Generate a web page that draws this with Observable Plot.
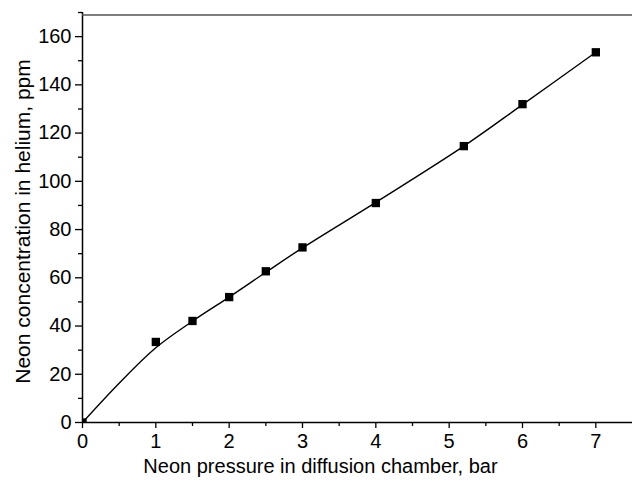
<!DOCTYPE html>
<html><head><meta charset="utf-8">
<script src="https://cdn.jsdelivr.net/npm/d3@7"></script>
<script src="https://cdn.jsdelivr.net/npm/@observablehq/plot@0.6"></script>
<style>body{margin:0;background:#fff}</style>
</head><body><div id="chart"></div>
<script>
const pressure = [0, 1, 1.5, 2, 2.5, 3, 4, 5.2, 6, 7];
const concentration = [0, 33.4, 42.1, 52.0, 62.7, 72.6, 91.0, 114.6, 132.0, 153.5];
const fitPressure = [0, 0.5, 1, 1.5, 2, 2.5, 3, 4, 5.2, 6, 7];
const fitConcentration = [0, 16.3, 31, 42, 52, 62.3, 72.4, 91.3, 114.6, 131.8, 153.5];
const xMajorTicks = [0, 1, 2, 3, 4, 5, 6, 7];
const xMinorTicks = [0.5, 1.5, 2.5, 3.5, 4.5, 5.5, 6.5];
const yMajorTicks = [0, 20, 40, 60, 80, 100, 120, 140, 160];
const yMinorTicks = [10, 30, 50, 70, 90, 110, 130, 150, 170];
const xLabel = "Neon pressure in diffusion chamber, bar";
const yLabel = "Neon concentration in helium, ppm";

const points = pressure.map((p, i) => ({p, c: concentration[i]}));
const fit = fitPressure.map((p, i) => ({p, c: fitConcentration[i]}));

const chart = Plot.plot({
  width: 632, height: 483,
  marginLeft: 82, marginRight: 0, marginTop: 12, marginBottom: 61,
  style: {fontFamily: "'Liberation Sans', Arial, sans-serif", fontSize: "20px", color: "#000", background: "#fff"},
  x: {domain: [0, 7.5]},
  y: {domain: [0, 170]},
  marks: [
    Plot.axisX(xMajorTicks, {tickSize: 6, tickPadding: 5, label: null, strokeWidth: 1.3}),
    Plot.axisX(xMinorTicks, {tickSize: 4, fill: "none", label: null, strokeWidth: 1.3}),
    Plot.axisY(yMajorTicks, {tickSize: 7, tickPadding: 4, label: null, strokeWidth: 1.3}),
    Plot.axisY(yMinorTicks, {tickSize: 4, fill: "none", label: null, strokeWidth: 1.3}),
    Plot.ruleY([0], {strokeWidth: 1.5}),
    Plot.ruleX([0], {strokeWidth: 1.5}),
    Plot.ruleY([169], {stroke: "#555", strokeWidth: 1.5}),
    Plot.line(fit, {x: "p", y: "c", curve: "catmull-rom", strokeWidth: 1.4, stroke: "#000"}),
    Plot.dot(points, {x: "p", y: "c", symbol: "square", r: 4.7, fill: "#000", stroke: "none", clip: true}),
    Plot.text([xLabel], {frameAnchor: "bottom", dy: 50, dx: -37, text: d => d}),
    Plot.text([yLabel], {frameAnchor: "left", dx: -59, dy: 4, rotate: -90, textAnchor: "middle", fontSize: 21, text: d => d})
  ]
});
document.getElementById("chart").append(chart);
</script>
</body></html>
